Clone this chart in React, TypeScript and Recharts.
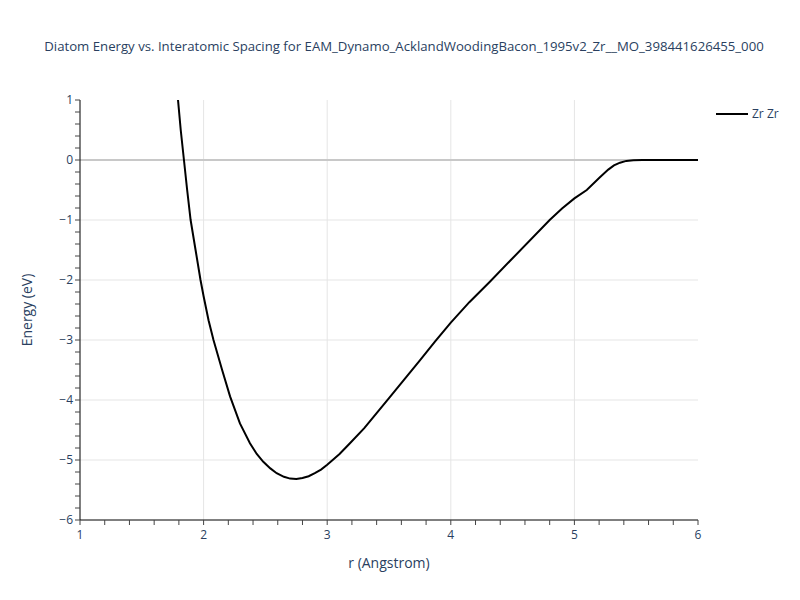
import React from "react";
import { LineChart, Line, XAxis, YAxis, ReferenceLine } from "recharts";

const rValues = [1.793, 1.815, 1.841, 1.867, 1.895, 1.935, 1.975, 2.0, 2.04, 2.08, 2.15, 2.214, 2.294, 2.375, 2.43, 2.483, 2.54, 2.591, 2.65, 2.7, 2.75, 2.8, 2.85, 2.9, 2.95, 3.0, 3.1, 3.184, 3.3, 3.4, 3.5, 3.75, 3.875, 4.0, 4.15, 4.32, 4.48, 4.8, 4.9, 5.0, 5.1, 5.2, 5.274, 5.32, 5.369, 5.42, 5.477, 5.55, 6.0];
const energyValues = [1.0, 0.5, 0.0, -0.5, -1.0, -1.5, -2.0, -2.27, -2.67, -3.0, -3.5, -3.94, -4.39, -4.72, -4.9, -5.03, -5.14, -5.22, -5.28, -5.31, -5.315, -5.3, -5.27, -5.22, -5.16, -5.08, -4.9, -4.72, -4.47, -4.22, -3.97, -3.34, -3.02, -2.71, -2.37, -2.02, -1.68, -1.0, -0.81, -0.64, -0.5, -0.3, -0.16, -0.09, -0.045, -0.015, -0.004, 0, 0];
const xTicks = [1, 1.2, 1.4, 1.6, 1.8, 2, 2.2, 2.4, 2.6, 2.8, 3, 3.2, 3.4, 3.6, 3.8, 4, 4.2, 4.4, 4.6, 4.8, 5, 5.2, 5.4, 5.6, 5.8, 6];
const yTicks = [-6, -5.8, -5.6, -5.4, -5.2, -5, -4.8, -4.6, -4.4, -4.2, -4, -3.8, -3.6, -3.4, -3.2, -3, -2.8, -2.6, -2.4, -2.2, -2, -1.8, -1.6, -1.4, -1.2, -1, -0.8, -0.6, -0.4, -0.2, 0, 0.2, 0.4, 0.6, 0.8, 1];
const xGrid = [2, 3, 4, 5];
const yGrid = [-5, -4, -3, -2, -1];
const seriesName = "Zr Zr";
const title = "Diatom Energy vs. Interatomic Spacing for EAM_Dynamo_AcklandWoodingBacon_1995v2_Zr__MO_398441626455_000";

const data = rValues.map((r, i) => ({ r, e: energyValues[i] }));

const FONT = '"Open Sans", "Noto Sans", sans-serif';
const TXT = "#2a3f5f";

const isInt = (v: number) => Math.abs(v - Math.round(v)) < 1e-6;
const fmt = (v: number) => (v < 0 ? "\u2212" + Math.abs(Math.round(v)) : String(Math.round(v)));

const XTick = (props: any) => {
  const { x, y, payload } = props;
  if (!isInt(payload.value)) return <g />;
  return (
    <text x={x} y={y} dy={12} textAnchor="middle" fontSize={12} fontFamily={FONT} fill={TXT}>
      {fmt(payload.value)}
    </text>
  );
};

const YTick = (props: any) => {
  const { x, y, payload } = props;
  if (!isInt(payload.value)) return <g />;
  return (
    <text x={x} y={y} dy={4} textAnchor="end" fontSize={12} fontFamily={FONT} fill={TXT}>
      {fmt(payload.value)}
    </text>
  );
};

export default function App() {
  return (
    <div style={{ position: "absolute", left: 0, top: 0, width: 800, height: 600, background: "#fff", fontFamily: FONT }}>
      <LineChart width={800} height={600} data={data} margin={{ top: 100, right: 102, bottom: 0, left: 0 }}>
        {xGrid.map((v) => (
          <ReferenceLine key={"x" + v} x={v} stroke="#e5e5e5" strokeWidth={1} ifOverflow="hidden" />
        ))}
        {yGrid.map((v) => (
          <ReferenceLine key={"y" + v} y={v} stroke="#e5e5e5" strokeWidth={1} ifOverflow="hidden" />
        ))}
        <ReferenceLine y={0} stroke="#c8c8c8" strokeWidth={2} />
        <XAxis
          dataKey="r"
          type="number"
          domain={[1, 6]}
          ticks={xTicks}
          interval={0}
          height={80}
          tickSize={5}
          tickMargin={2}
          stroke="#000"
          tickLine={{ stroke: "#444" }}
          tick={<XTick />}
          allowDataOverflow
        />
        <YAxis
          type="number"
          domain={[-6, 1]}
          ticks={yTicks}
          interval={0}
          width={80}
          tickSize={5}
          tickMargin={2}
          stroke="#000"
          tickLine={{ stroke: "#444" }}
          tick={<YTick />}
          allowDataOverflow
        />
        <Line
          type="linear"
          dataKey="e"
          stroke="#000"
          strokeWidth={2}
          dot={false}
          isAnimationActive={false}
          name={seriesName}
        />
      </LineChart>
      <div style={{ position: "absolute", left: 0, width: 808, top: 37, textAlign: "center", fontSize: 13.2, color: TXT, whiteSpace: "nowrap" }}>
        {title}
      </div>
      <div style={{ position: "absolute", left: 0, width: 778, top: 553, textAlign: "center", fontSize: 14, color: TXT }}>
        r (Angstrom)
      </div>
      <div style={{ position: "absolute", left: 26, top: 310, transform: "translate(-50%, -50%) rotate(-90deg)", fontSize: 14, color: TXT, whiteSpace: "nowrap" }}>
        Energy (eV)
      </div>
      <svg style={{ position: "absolute", left: 0, top: 0 }} width={800} height={600} pointerEvents="none">
        <line x1={716} x2={748} y1={114} y2={114} stroke="#000" strokeWidth={2} />
        <text x={752} y={118} fontSize={12} fontFamily={FONT} fill={TXT}>{seriesName}</text>
      </svg>
    </div>
  );
}
